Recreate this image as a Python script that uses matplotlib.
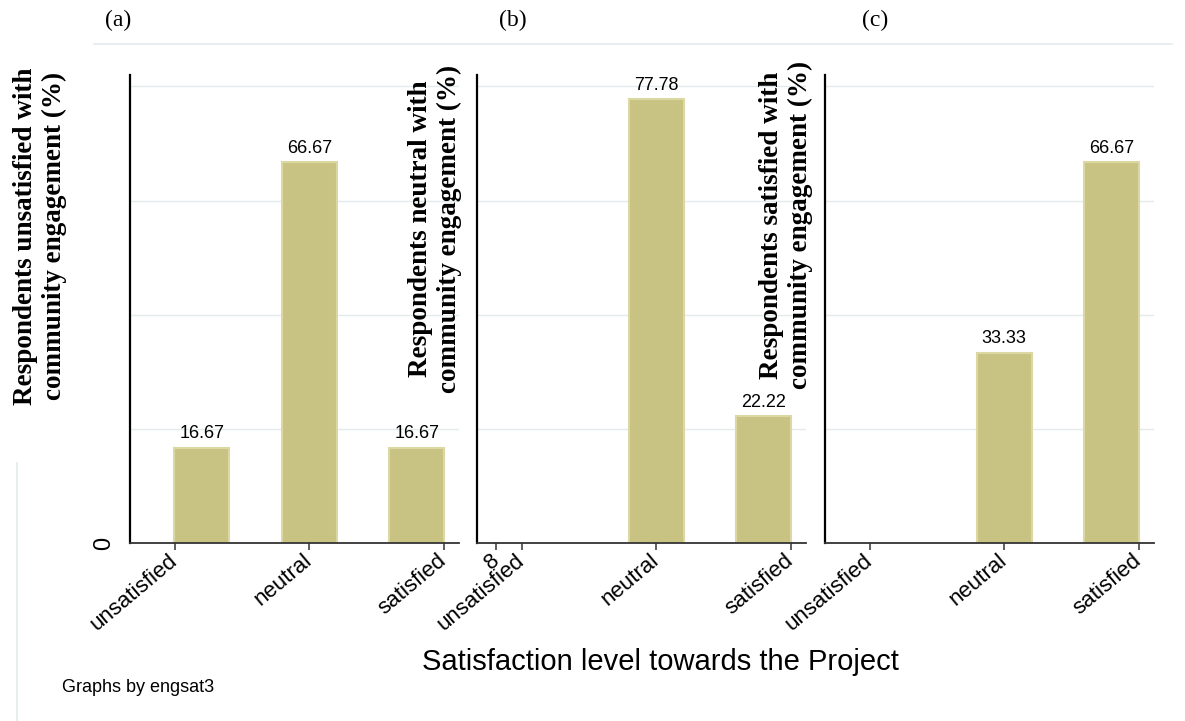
import matplotlib
matplotlib.use("Agg")
import matplotlib.pyplot as plt
from matplotlib.lines import Line2D

# ---- data ----
categories = ["unsatisfied", "neutral", "satisfied"]
panel_tags = ["(a)", "(b)", "(c)"]
ylabels = [
    "Respondents unsatisfied with\ncommunity engagement (%)",
    "Respondents neutral with\ncommunity engagement (%)",
    "Respondents satisfied with\ncommunity engagement (%)",
]
values_a = [16.67, 66.67, 16.67]
values_b = [0.0, 77.78, 22.22]
values_c = [0.0, 33.33, 66.67]
panel_values = [values_a, values_b, values_c]
grid_levels = [20, 40, 60, 80]

BAR = "#C9C383"
EDGE = "#DCD8A3"
GRID = "#E3EBEE"
SANS = "Liberation Sans"
SERIF = "Liberation Serif"

W, H = 1185, 721
fig = plt.figure(figsize=(W / 100, H / 100), dpi=100)

def fx(px):
    return px / W

def fy(py):
    return 1 - py / H

lefts = [130, 477, 825]
ax_w = 329
top_px, bot_px = 75, 543
label_x = [40, 435, 786]
label_y = [236, 229, 225]
tag_x = [118, 513, 875]

for k in range(3):
    ax = fig.add_axes([fx(lefts[k]), fy(bot_px), fx(ax_w), (bot_px - top_px) / H])
    vals = panel_values[k]
    idx = list(range(len(categories)))
    pos = [i + 0.2 * (1 - i) for i in idx]
    lws = [1.5 if v > 0 else 0 for v in vals]
    ax.bar(pos, vals, width=0.41, color=BAR, edgecolor=EDGE, linewidth=lws, zorder=3)
    for p, v in zip(pos, vals):
        if v > 0:
            ax.annotate(f"{v:.2f}", (p, v), xytext=(0, 4), textcoords="offset points",
                        ha="center", va="bottom", fontsize=13, family=SANS, zorder=4)
    ax.set_xlim(-0.335, 2.115)
    ax.set_ylim(0, 82)
    for g in grid_levels:
        ax.axhline(g, color=GRID, lw=1.0, zorder=1)
    for s in ["top", "right"]:
        ax.spines[s].set_visible(False)
    ax.spines["left"].set_linewidth(1.6)
    ax.spines["left"].set_color("black")
    ax.spines["bottom"].set_linewidth(1.3)
    ax.spines["bottom"].set_color("#333333")
    ax.spines["bottom"].set_zorder(5)

    ticks = list(idx)
    labels = list(categories)
    if k == 1:
        ticks = [-0.19] + ticks
        labels = ["8"] + labels
    ax.set_xticks(ticks)
    ax.set_xticklabels(labels, rotation=40, ha="right", va="center",
                       rotation_mode="anchor", fontsize=16, family=SANS)
    ax.tick_params(axis="x", length=5, width=1.1, color="#333333", pad=6)
    if k == 0:
        ax.set_yticks([0])
        ax.set_yticklabels(["0"], rotation=90, va="center", ha="right",
                           fontsize=17, family=SANS)
        ax.tick_params(axis="y", length=0, pad=11)
    else:
        ax.set_yticks([])

    fig.text(fx(label_x[k]), fy(label_y[k]), ylabels[k], rotation=90,
             ha="center", va="center", multialignment="center",
             fontsize=19.5, fontweight="bold", family=SERIF, linespacing=1.2)
    fig.text(fx(tag_x[k]), fy(20), panel_tags[k], ha="center", va="center",
             fontsize=17, family=SERIF)

# decorative frame lines
fig.add_artist(Line2D([fx(94), fx(1172)], [fy(44), fy(44)], color=GRID, lw=1.2))
fig.add_artist(Line2D([fx(17), fx(17)], [fy(463), fy(721)], color=GRID, lw=1.2))

fig.text(fx(660), fy(662), "Satisfaction level towards the Project",
         ha="center", va="center", fontsize=21, family=SANS)
fig.text(fx(62), fy(688), "Graphs by engsat3", ha="left", va="center",
         fontsize=13, family=SANS)

fig.savefig("out.png", dpi=100)
